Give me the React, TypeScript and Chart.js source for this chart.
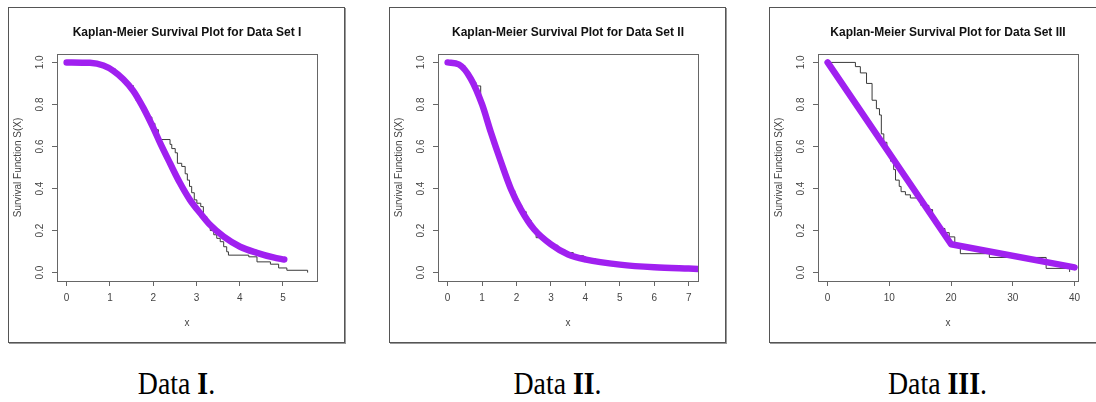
import React, { useEffect, useRef } from "react";
import { Chart, registerables } from "chart.js";

Chart.register(...registerables);

// Shared y-axis ticks (survival probability)
const Y_TICKS = [0, 0.2, 0.4, 0.6, 0.8, 1.0];

// ---- Data Set I ----
const KM1_T = [0, 0.39, 0.85, 1.0, 1.12, 1.2, 1.31, 1.43, 1.54, 1.6, 1.66, 1.74, 1.81, 1.87, 1.97, 2.04, 2.12, 2.39, 2.43, 2.51, 2.56, 2.66, 2.74, 2.79, 2.84, 2.89, 2.95, 3.01, 3.1, 3.16, 3.24, 3.32, 3.4, 3.47, 3.55, 3.63, 3.7, 3.74, 4.21, 4.4, 4.71, 4.9, 5.09, 5.57];
const KM1_S = [1.0, 0.995, 0.98, 0.97, 0.95, 0.93, 0.905, 0.89, 0.865, 0.82, 0.8, 0.785, 0.76, 0.74, 0.71, 0.68, 0.633, 0.61, 0.59, 0.57, 0.52, 0.505, 0.47, 0.44, 0.41, 0.38, 0.346, 0.33, 0.314, 0.266, 0.242, 0.2, 0.18, 0.163, 0.147, 0.123, 0.099, 0.083, 0.075, 0.051, 0.04, 0.022, 0.011, 0.0];
const FIT1_X = [0, 0.54, 0.85, 1.08, 1.31, 1.54, 1.77, 2.0, 2.16, 2.39, 2.62, 2.85, 3.09, 3.32, 3.63, 4.01, 4.4, 4.78, 5.03];
const FIT1_S = [1.0, 0.998, 0.985, 0.96, 0.92, 0.865, 0.785, 0.69, 0.617, 0.52, 0.426, 0.346, 0.282, 0.226, 0.171, 0.123, 0.094, 0.072, 0.062];
const X1_TICKS = [0, 1, 2, 3, 4, 5];

// ---- Data Set II ----
const KM2_T = [0, 0.25, 0.4, 0.5, 0.58, 0.66, 0.74, 0.82, 0.96, 1.02, 1.08, 1.14, 1.2, 1.25, 1.3, 1.38, 1.45, 1.52, 1.6, 1.68, 1.76, 1.85, 1.95, 2.05, 2.15, 2.28, 2.42, 2.57, 2.82, 3.0, 3.2, 3.4, 3.65, 3.95, 4.3, 4.62, 5.3, 6.0, 6.8, 7.3];
const KM2_S = [1.0, 0.995, 0.985, 0.96, 0.945, 0.925, 0.905, 0.888, 0.82, 0.79, 0.76, 0.73, 0.7, 0.665, 0.61, 0.59, 0.56, 0.52, 0.49, 0.455, 0.42, 0.39, 0.35, 0.32, 0.29, 0.25, 0.21, 0.166, 0.15, 0.13, 0.11, 0.095, 0.08, 0.065, 0.05, 0.035, 0.03, 0.025, 0.02, 0.02];
const FIT2_X = [0, 0.33, 0.67, 1.0, 1.25, 1.55, 1.84, 2.13, 2.51, 3.0, 3.5, 4.02, 5.0, 6.0, 7.0, 7.4];
const FIT2_S = [1.0, 0.99, 0.923, 0.8, 0.67, 0.526, 0.397, 0.3, 0.206, 0.134, 0.086, 0.062, 0.038, 0.025, 0.019, 0.017];
const X2_TICKS = [0, 1, 2, 3, 4, 5, 6, 7];

// ---- Data Set III ----
const KM3_T = [0, 4.5, 5.3, 6.3, 7.2, 7.9, 8.4, 8.7, 9.1, 9.6, 10.2, 10.7, 11.0, 11.6, 11.9, 12.6, 13.4, 14.8, 15.1, 16.4, 17.0, 17.3, 18.1, 19.0, 19.7, 20.6, 21.5, 26.2, 35.4, 39.2];
const KM3_S = [1.0, 0.98, 0.95, 0.9, 0.82, 0.78, 0.75, 0.66, 0.62, 0.58, 0.53, 0.49, 0.44, 0.41, 0.385, 0.37, 0.355, 0.345, 0.32, 0.3, 0.265, 0.23, 0.21, 0.19, 0.17, 0.125, 0.09, 0.072, 0.02, 0.003];
const FIT3_X = [0, 20, 40];
const FIT3_S = [1.0, 0.135, 0.025];
const X3_TICKS = [0, 10, 20, 30, 40];

const FONT = "'Liberation Sans', Arial, sans-serif";
const AXIS_GREY = "#666";
const TEXT_GREY = "#444";
const FIT_PURPLE = "#A020F0";

type PanelProps = {
  title: string;
  kmT: number[];
  kmS: number[];
  fitX: number[];
  fitS: number[];
  xTicks: number[];
  xMin: number;
  xMax: number;
  smooth: boolean;
};

const zip = (xs: number[], ys: number[]) => xs.map((x, i) => ({ x, y: ys[i] }));

function SurvivalPanel(props: PanelProps) {
  const ref = useRef<HTMLCanvasElement | null>(null);

  useEffect(() => {
    const canvas = ref.current;
    if (!canvas) return;

    // Frame around the plot region plus rotated y tick labels (R style).
    const frame = {
      id: "frame",
      afterDraw(chart: any) {
        const { ctx, chartArea, scales } = chart;
        ctx.save();
        ctx.strokeStyle = AXIS_GREY;
        ctx.lineWidth = 1;
        ctx.strokeRect(
          Math.round(chartArea.left) + 0.5,
          Math.round(chartArea.top) + 0.5,
          Math.round(chartArea.right - chartArea.left),
          Math.round(chartArea.bottom - chartArea.top)
        );
        ctx.fillStyle = TEXT_GREY;
        ctx.font = `10px ${FONT}`;
        ctx.textAlign = "center";
        ctx.textBaseline = "middle";
        for (const v of Y_TICKS) {
          const py = scales.y.getPixelForValue(v);
          ctx.save();
          ctx.translate(31, py);
          ctx.rotate(-Math.PI / 2);
          ctx.fillText(v.toFixed(1), 0, 0);
          ctx.restore();
        }
        ctx.restore();
      },
    };

    const chart = new Chart(canvas, {
      type: "line",
      data: {
        datasets: [
          {
            label: "fit",
            data: zip(props.fitX, props.fitS),
            borderColor: FIT_PURPLE,
            borderWidth: 6.5,
            borderCapStyle: "round",
            borderJoinStyle: "round",
            pointRadius: 0,
            tension: props.smooth ? 0.4 : 0,
            cubicInterpolationMode: props.smooth ? "monotone" : "default",
            clip: 0,
          },
          {
            label: "km",
            data: zip(props.kmT, props.kmS),
            borderColor: "#3a3a3a",
            borderWidth: 1,
            pointRadius: 0,
            stepped: "before",
            clip: 0,
          },
        ],
      },
      options: {
        animation: false,
        responsive: false,
        maintainAspectRatio: false,
        layout: { padding: { left: 0, top: 0, right: 27, bottom: 0 } },
        plugins: {
          legend: { display: false },
          tooltip: { enabled: false },
          title: {
            display: true,
            text: props.title,
            fullSize: false,
            color: "#111",
            font: { family: FONT, size: 12, weight: "bold" },
            padding: { top: 17.8, bottom: 13.8 },
          },
        },
        scales: {
          x: {
            type: "linear",
            min: props.xMin,
            max: props.xMax,
            afterBuildTicks: (s: any) => {
              s.ticks = props.xTicks.map((v) => ({ value: v }));
            },
            afterFit: (s: any) => {
              s.height = 61;
            },
            grid: {
              display: true,
              drawOnChartArea: false,
              drawTicks: true,
              tickLength: 5,
              color: AXIS_GREY,
            },
            border: { display: true, color: AXIS_GREY },
            ticks: {
              color: TEXT_GREY,
              font: { family: FONT, size: 10 },
              padding: 6,
              maxRotation: 0,
              autoSkip: false,
              callback: (v: any) => String(v),
            },
            title: {
              display: true,
              text: "x",
              color: TEXT_GREY,
              font: { family: FONT, size: 10 },
              padding: { top: 0, bottom: 13 },
            },
          },
          y: {
            type: "linear",
            min: -0.04,
            max: 1.04,
            afterBuildTicks: (s: any) => {
              s.ticks = Y_TICKS.map((v) => ({ value: v }));
            },
            afterFit: (s: any) => {
              s.width = 48;
            },
            grid: {
              display: true,
              drawOnChartArea: false,
              drawTicks: true,
              tickLength: 5,
              color: AXIS_GREY,
            },
            border: { display: true, color: AXIS_GREY },
            ticks: { display: false },
            title: {
              display: true,
              text: "Survival Function S(X)",
              color: TEXT_GREY,
              font: { family: FONT, size: 10 },
              padding: { top: 3, bottom: 0 },
            },
          },
        },
      },
      plugins: [frame],
    } as any);

    return () => chart.destroy();
  }, []);

  return <canvas ref={ref} width={335} height={334} style={{ display: "block" }} />;
}

const PANELS = [
  { left: 8, caption: "I", title: "Kaplan-Meier Survival Plot for Data Set I", kmT: KM1_T, kmS: KM1_S, fitX: FIT1_X, fitS: FIT1_S, xTicks: X1_TICKS, xMin: -0.223, xMax: 5.787, smooth: true },
  { left: 389, caption: "II", title: "Kaplan-Meier Survival Plot for Data Set II", kmT: KM2_T, kmS: KM2_S, fitX: FIT2_X, fitS: FIT2_S, xTicks: X2_TICKS, xMin: -0.28, xMax: 7.27, smooth: true },
  { left: 769, caption: "III", title: "Kaplan-Meier Survival Plot for Data Set III", kmT: KM3_T, kmS: KM3_S, fitX: FIT3_X, fitS: FIT3_S, xTicks: X3_TICKS, xMin: -1.56, xMax: 40.56, smooth: false },
];

export default function App() {
  return (
    <div
      style={{
        position: "fixed",
        left: 0,
        top: 0,
        width: 1096,
        height: 402,
        overflow: "hidden",
        background: "#fff",
      }}
    >
      {PANELS.map((p) => (
        <React.Fragment key={p.caption}>
          <div
            style={{
              position: "absolute",
              left: p.left,
              top: 7,
              width: 335,
              height: 334,
              border: "1px solid #555",
              boxShadow: "1px 1px 0 #999",
              background: "#fff",
            }}
          >
            <SurvivalPanel
              title={p.title}
              kmT={p.kmT}
              kmS={p.kmS}
              fitX={p.fitX}
              fitS={p.fitS}
              xTicks={p.xTicks}
              xMin={p.xMin}
              xMax={p.xMax}
              smooth={p.smooth}
            />
          </div>
          <div
            style={{
              position: "absolute",
              left: p.left,
              top: 367,
              width: 337,
              textAlign: "center",
              fontFamily: "'Liberation Serif', 'Times New Roman', serif",
              fontSize: 32,
              lineHeight: "32px",
              color: "#000",
              transform: "scaleX(0.87)",
              transformOrigin: "center",
            }}
          >
            Data <b>{p.caption}</b>.
          </div>
        </React.Fragment>
      ))}
    </div>
  );
}
